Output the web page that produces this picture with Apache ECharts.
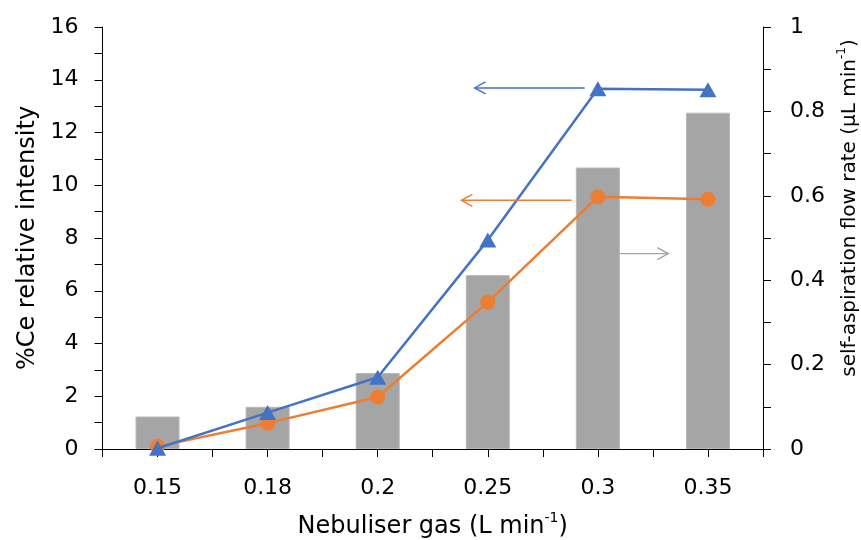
<!DOCTYPE html>
<html><head><meta charset="utf-8">
<script src="https://cdn.jsdelivr.net/npm/echarts@6/dist/echarts.min.js"></script>
<style>html,body{margin:0;background:#fff}#c{width:861px;height:540px}</style>
</head><body><div id="c"></div>
<script>
// ---- data ----
const categories = ['0.15', '0.18', '0.2', '0.25', '0.3', '0.35'];
const halfCategories = ['', '', '', '', '', '', '', '', '', '', '', ''];
const blueIntensity = [0.03, 1.38, 2.72, 7.92, 13.66, 13.62];
const orangeIntensity = [0.1, 0.98, 1.97, 5.57, 9.56, 9.47];
const flowRate = [0.077, 0.100, 0.180, 0.412, 0.667, 0.797];
const xTitle = 'Nebuliser gas (L min';
const leftTitle = '%Ce relative intensity';
const rightTitle = 'self-aspiration flow rate (µL min';
// annotation arrows: axis, value level, from (tail) / to (tip) in category units
const arrowAxis = [0, 0, 1];
const arrowValue = [13.69, 9.43, 0.463];
const arrowFrom = [3.88, 3.76, 4.20];
const arrowTo = [2.88, 2.76, 4.64];
const arrowColor = ['#4472C4', '#ED7D31', '#A5A5A5'];

const FONT = 'DejaVu Sans';
const chart = echarts.init(document.getElementById('c'), null, {renderer: 'canvas'});
const axisLine = {show: true, lineStyle: {color: '#000', width: 1}};
chart.setOption({
  animation: false,
  textStyle: {fontFamily: FONT},
  grid: {left: 102.5, right: 98, top: 27, bottom: 91, containLabel: false, outerBoundsMode: 'none'},
  xAxis: [{
    type: 'category', data: categories, position: 'bottom',
    axisLine: axisLine, axisTick: {show: false},
    axisLabel: {color: '#000', fontSize: 22, fontFamily: FONT, margin: 28},
    name: '{a|' + xTitle + '}{s|-1}{a|)}', nameLocation: 'middle', nameGap: 62,
    nameTextStyle: {rich: {
      a: {fontSize: 24, fontFamily: FONT, color: '#000', verticalAlign: 'bottom', lineHeight: 28},
      s: {fontSize: 14, fontFamily: FONT, color: '#000', verticalAlign: 'top', lineHeight: 28, padding: [0, 0, 10, 0]}
    }}
  }, {
    type: 'category', data: halfCategories, position: 'bottom',
    axisLine: {show: false},
    axisTick: {show: true, interval: 0, length: 8, lineStyle: {color: '#000', width: 1}},
    axisLabel: {show: false}
  }],
  yAxis: [{
    type: 'value', min: 0, max: 16, interval: 1, position: 'left',
    axisLine: axisLine,
    axisTick: {show: true, length: 8, lineStyle: {color: '#000'}},
    splitLine: {show: false},
    axisLabel: {color: '#000', fontSize: 22, fontFamily: FONT, margin: 24,
      formatter: v => (v % 2 === 0 ? String(v) : '')},
    name: leftTitle, nameLocation: 'middle', nameRotate: 90, nameGap: 62,
    nameTextStyle: {fontSize: 24, fontFamily: FONT, color: '#000'}
  }, {
    type: 'value', min: 0, max: 1, interval: 0.1, position: 'right',
    axisLine: axisLine,
    axisTick: {show: true, length: 8, lineStyle: {color: '#000'}},
    splitLine: {show: false},
    axisLabel: {color: '#000', fontSize: 22, fontFamily: FONT, margin: 27,
      formatter: v => (Math.round(v * 10) % 2 === 0 ? String(+v.toFixed(1)) : '')},
    name: '{a|' + rightTitle + '}{s|-1}{a|)}', nameLocation: 'middle', nameRotate: 90, nameGap: 71,
    nameTextStyle: {padding: [0, 0, 0, 60], rich: {
      a: {fontSize: 20, fontFamily: FONT, color: '#000', verticalAlign: 'bottom', lineHeight: 24},
      s: {fontSize: 12, fontFamily: FONT, color: '#000', verticalAlign: 'top', lineHeight: 24, padding: [0, 0, 8, 0]}
    }}
  }],
  series: [{
    type: 'bar', name: 'flow', xAxisIndex: 0, yAxisIndex: 1, data: flowRate,
    barWidth: '40%', itemStyle: {color: '#A5A5A5', borderColor: '#B8B8B8', borderWidth: 1}, z: 1
  }, {
    type: 'line', name: 'orange', xAxisIndex: 0, yAxisIndex: 0, data: orangeIntensity,
    symbol: 'circle', symbolSize: 15, showAllSymbol: true,
    lineStyle: {color: '#ED7D31', width: 2.5}, itemStyle: {color: '#ED7D31'}, z: 3
  }, {
    type: 'line', name: 'blue', xAxisIndex: 0, yAxisIndex: 0, data: blueIntensity,
    symbol: 'triangle', symbolSize: [17, 15], showAllSymbol: true,
    lineStyle: {color: '#4472C4', width: 2.5}, itemStyle: {color: '#4472C4'}, z: 4
  }]
});

// annotation arrows placed through the axes' own scales
const graphics = [];
for (let i = 0; i < arrowValue.length; i++) {
  const f = {xAxisIndex: 0, yAxisIndex: arrowAxis[i]};
  const p0 = chart.convertToPixel(f, [0, arrowValue[i]]);
  const p1 = chart.convertToPixel(f, [1, arrowValue[i]]);
  const step = p1[0] - p0[0];
  const y = p0[1];
  const xt = p0[0] + arrowFrom[i] * step;
  const xh = p0[0] + arrowTo[i] * step;
  const dir = xh > xt ? 1 : -1;
  const hl = 11, hw = 6;
  graphics.push({type: 'line', shape: {x1: xt, y1: y, x2: xh, y2: y},
    style: {stroke: arrowColor[i], lineWidth: 1.4}, z: 10});
  graphics.push({type: 'polyline', shape: {points: [[xh - dir * hl, y - hw], [xh, y], [xh - dir * hl, y + hw]]},
    style: {stroke: arrowColor[i], lineWidth: 1.4, fill: null}, z: 10});
}
chart.setOption({graphic: graphics});
</script>
</body></html>
